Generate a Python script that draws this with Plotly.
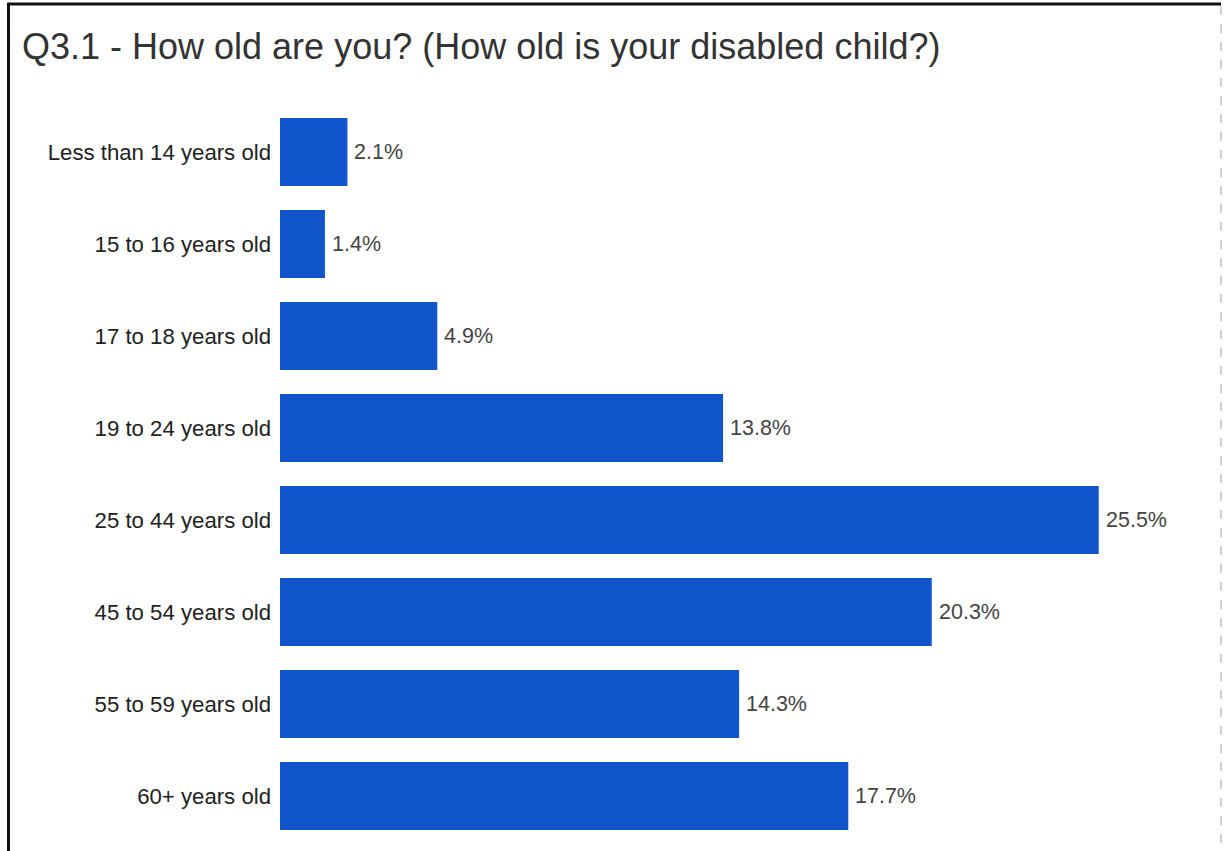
import plotly.graph_objects as go

# Survey responses: age group shares (percent of respondents)
age_groups = [
    "Less than 14 years old",
    "15 to 16 years old",
    "17 to 18 years old",
    "19 to 24 years old",
    "25 to 44 years old",
    "45 to 54 years old",
    "55 to 59 years old",
    "60+ years old",
]
shares = [2.1, 1.4, 4.9, 13.8, 25.5, 20.3, 14.3, 17.7]
share_labels = [f"{v:.1f}%" for v in shares]

W, H = 1224, 851
L, R, T, B = 280, 45, 106, 9
plot_w = W - L - R
plot_h = H - T - B
FONT = "Liberation Sans, Arial, sans-serif"


def px_x(px):
    return (px - L) / plot_w


def px_y(py):
    return (H - B - py) / plot_h


fig = go.Figure(
    go.Bar(
        x=shares,
        y=age_groups,
        orientation="h",
        marker=dict(color="#1155cc", line=dict(width=0)),
        hoverinfo="skip",
    )
)

# value labels just past the end of each bar
for cat, val, lab in zip(age_groups, shares, share_labels):
    fig.add_annotation(
        x=val, y=cat, xref="x", yref="y",
        text=lab, showarrow=False,
        xanchor="left", yanchor="middle", xshift=5,
        font=dict(family=FONT, size=21.5, color="#444444"),
    )

fig.update_layout(
    width=W,
    height=H,
    margin=dict(l=L, r=R, t=T, b=B),
    paper_bgcolor="white",
    plot_bgcolor="white",
    bargap=0.26,
    showlegend=False,
    title=dict(
        text="Q3.1 - How old are you? (How old is your disabled child?)",
        x=22 / W,
        xanchor="left",
        xref="container",
        y=1 - 46 / H,
        yanchor="middle",
        yref="container",
        font=dict(family=FONT, size=36, color="#333333"),
    ),
    xaxis=dict(
        range=[0, 28],
        showgrid=False,
        zeroline=False,
        showticklabels=False,
        showline=False,
        fixedrange=True,
    ),
    yaxis=dict(
        autorange="reversed",
        showgrid=False,
        zeroline=False,
        showline=False,
        ticks="",
        ticklabelstandoff=8,
        tickfont=dict(family=FONT, size=22.2, color="#222222"),
        fixedrange=True,
    ),
    shapes=[
        # frame: dark top and left edges, light dashed right edge
        dict(type="line", xref="paper", yref="paper",
             x0=px_x(7), x1=px_x(1221), y0=px_y(4), y1=px_y(4),
             line=dict(color="#111111", width=3)),
        dict(type="line", xref="paper", yref="paper",
             x0=px_x(8.5), x1=px_x(8.5), y0=px_y(3), y1=px_y(870),
             line=dict(color="#111111", width=3)),
        dict(type="line", xref="paper", yref="paper",
             x0=px_x(1221), x1=px_x(1221), y0=px_y(6), y1=px_y(870),
             line=dict(color="#d0d0d0", width=2, dash="dash")),
    ],
)

fig.write_html("out.html")
